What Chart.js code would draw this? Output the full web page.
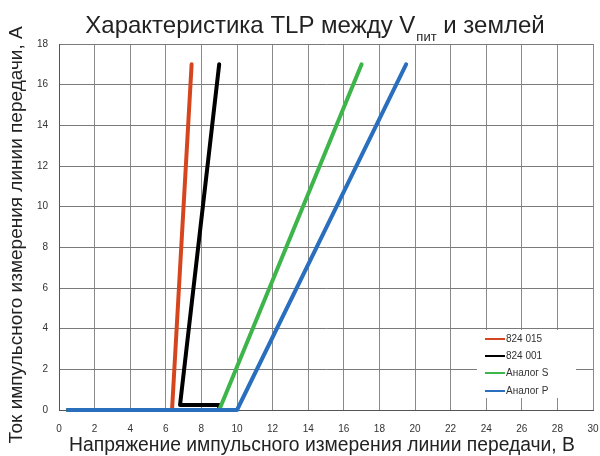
<!DOCTYPE html>
<html>
<head>
<meta charset="utf-8">
<script src="https://cdn.jsdelivr.net/npm/chart.js@4/dist/chart.umd.min.js"></script>
<style>
html,body{margin:0;padding:0;background:#fff;}
#wrap{position:relative;width:600px;height:456px;}
</style>
</head>
<body>
<div id="wrap"><canvas id="c" width="600" height="456"></canvas></div>
<script>
// ---- data ----
const seriesNames = ["824 015", "824 001", "Аналог S", "Аналог P"];
const seriesColors = ["#d5461f", "#000000", "#3db54a", "#2a6fbd"];
const red_x   = [0.5, 6.35, 7.45];
const red_y   = [0,   0,    17];
const black_x = [0.5, 9.0, 9.0,  6.8,  9.0];
const black_y = [0,   0,   0.25, 0.25, 17];
const green_x = [0.5, 9.0, 17.0];
const green_y = [0,   0,   17];
const blue_x  = [0.5, 10.0, 19.5];
const blue_y  = [0,   0,    17];
const xTicks = [0,2,4,6,8,10,12,14,16,18,20,22,24,26,28,30];
const yTicks = [0,2,4,6,8,10,12,14,16,18];
const titleMain = "Характеристика TLP между V";
const titleSub = "пит";
const titleEnd = " и землей";
const xTitle = "Напряжение импульсного измерения линии передачи, В";
const yTitle = "Ток импульсного измерения линии передачи, А";

function pts(xs, ys){ return xs.map((x,i)=>({x:x, y:ys[i]})); }
const allX = [red_x, black_x, green_x, blue_x];
const allY = [red_y, black_y, green_y, blue_y];

const FONT = "'Liberation Sans', Arial, sans-serif";

const datasets = seriesNames.map((n,i)=>({
  label: n,
  data: pts(allX[i], allY[i]),
  borderColor: seriesColors[i],
  backgroundColor: seriesColors[i],
  borderWidth: 4,
  pointRadius: 0,
  borderCapStyle: 'round',
  borderJoinStyle: 'round',
  tension: 0,
  fill: false,
  clip: false,
  order: 3 - i
}));

const decor = {
  id: 'decor',
  afterDatasetsDraw(chart){
    const ctx = chart.ctx;
    ctx.save();
    ctx.fillStyle = '#fff';
    ctx.fillRect(477, 330, 99, 68);
    const rows = [339, 356, 373, 391];
    ctx.font = "10px " + FONT;
    ctx.textBaseline = 'middle';
    ctx.textAlign = 'left';
    rows.forEach((y,i)=>{
      ctx.strokeStyle = seriesColors[i];
      ctx.lineWidth = 2;
      ctx.beginPath(); ctx.moveTo(485, y); ctx.lineTo(505, y); ctx.stroke();
      ctx.fillStyle = '#333';
      ctx.fillText(seriesNames[i], 506, y);
    });
    ctx.restore();
  },
  afterDraw(chart){
    const ctx = chart.ctx;
    ctx.save();
    ctx.fillStyle = '#222';
    ctx.textBaseline = 'alphabetic';
    ctx.textAlign = 'left';
    const big = "24px " + FONT, small = "13px " + FONT;
    ctx.font = big; const w1 = ctx.measureText(titleMain).width; const w3 = ctx.measureText(titleEnd).width;
    ctx.font = small; const w2 = ctx.measureText(titleSub).width;
    const total = w1 + 1 + w2 + w3;
    let x = 315 - total/2;
    ctx.font = big; ctx.fillText(titleMain, x, 33); x += w1 + 1;
    ctx.font = small; ctx.fillText(titleSub, x, 41); x += w2;
    ctx.font = big; ctx.fillText(titleEnd, x, 33);
    // x title
    ctx.font = "19.3px " + FONT;
    ctx.textAlign = 'center';
    ctx.fillText(xTitle, 322, 451);
    // y title
    ctx.translate(22, 235);
    ctx.rotate(-Math.PI/2);
    ctx.font = "19px " + FONT;
    ctx.fillText(yTitle, 0, 0);
    ctx.restore();
  }
};

new Chart(document.getElementById('c'), {
  type: 'line',
  data: { datasets },
  options: {
    responsive: false,
    animation: false,
    layout: { padding: { top: 44, right: 7, left: 0, bottom: 0 } },
    plugins: { legend: { display: false }, tooltip: { enabled: false }, title: { display: false } },
    scales: {
      x: {
        type: 'linear', min: 0, max: 30,
        afterBuildTicks: (s)=>{ s.ticks = xTicks.map(v=>({value:v})); },
        afterFit: (s)=>{ s.height = 46; s.paddingRight = 0; s.paddingLeft = 0; },
        grid: { color: '#8a8a8a', lineWidth: 1, drawTicks: false },
        border: { color: '#555', width: 1 },
        ticks: { padding: 13, color: '#333', font: { family: FONT, size: 10 }, maxRotation: 0, autoSkip: false }
      },
      y: {
        type: 'linear', min: 0, max: 18,
        afterBuildTicks: (s)=>{ s.ticks = yTicks.map(v=>({value:v})); },
        afterFit: (s)=>{ s.width = 59; s.paddingTop = 0; s.paddingBottom = 0; },
        grid: { color: '#7a7a7a', lineWidth: 1, drawTicks: false },
        border: { color: '#555', width: 1 },
        ticks: { padding: 11, color: '#333', font: { family: FONT, size: 10 }, autoSkip: false }
      }
    }
  },
  plugins: [decor]
});
</script>
</body>
</html>
